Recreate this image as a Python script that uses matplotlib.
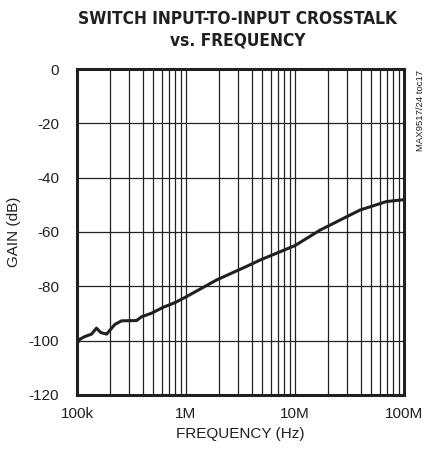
import matplotlib
matplotlib.use('Agg')
import matplotlib.pyplot as plt
import numpy as np

# crosstalk curve (frequency in Hz, gain in dB)
freq_hz = [100.6e3, 106e3, 118e3, 136e3, 151e3, 165e3, 187e3, 201e3, 223e3, 257e3,
           352e3, 392e3, 483e3, 620e3, 793e3, 1.01e6, 1.9e6, 3.86e6, 4.8e6, 10e6,
           17e6, 39.6e6, 69e6, 95e6, 100e6]
gain_db = [-101.0, -99.5, -98.5, -97.6, -95.4, -97.0, -97.6, -96.1, -94.0, -92.7,
           -92.6, -91.2, -89.9, -87.7, -86.0, -83.8, -77.7, -72.1, -70.3, -65.0,
           -59.3, -51.9, -48.8, -48.2, -48.1]

x_ticks = [1e5, 1e6, 1e7, 1e8]
x_ticklabels = ['100k', '1M', '10M', '100M']
y_ticks = [0, -20, -40, -60, -80, -100, -120]

plt.rcParams['font.family'] = ['Liberation Sans', 'DejaVu Sans']

fig = plt.figure(figsize=(4.3, 4.54), dpi=100)
ax = fig.add_axes([0.179, 0.130, 0.7605, 0.718])

ax.set_xscale('log')
ax.set_xlim(1e5, 1e8)
ax.set_ylim(-120, 0)

# grid: every 1..9 per decade, every 20 dB
for dec in [1e5, 1e6, 1e7]:
    for m in range(2, 10):
        ax.axvline(dec * m, color='#222222', lw=0.9, zorder=1)
for dec in [1e6, 1e7]:
    ax.axvline(dec, color='#222222', lw=0.9, zorder=1)
for y in y_ticks[1:-1]:
    ax.axhline(y, color='#222222', lw=0.9, zorder=1)

ax.plot(freq_hz, gain_db, color='#231f20', lw=2.2, zorder=3)

ax.set_xticks(x_ticks)
ax.set_xticklabels(x_ticklabels)
ax.set_xticks([], minor=True)
ax.set_yticks(y_ticks)
ax.set_yticklabels([str(v) for v in y_ticks])
ax.tick_params(axis='both', length=0, labelsize=11, colors='#231f20')
ax.tick_params(axis='x', pad=9)
ax.tick_params(axis='y', pad=13)

for s in ax.spines.values():
    s.set_linewidth(2.2)
    s.set_color('#231f20')

ax.set_xlabel('FREQUENCY (Hz)', fontsize=11, color='#231f20', labelpad=4)
ax.set_ylabel('GAIN (dB)', fontsize=11, color='#231f20', labelpad=5)

fig.text(0.552, 0.978, 'SWITCH INPUT-TO-INPUT CROSSTALK\nvs. FREQUENCY',
         ha='center', va='top', fontsize=12.4, fontweight='bold', color='#231f20',
         linespacing=1.25, family=['DejaVu Sans'], fontstretch='condensed')
fig.text(0.978, 0.845, 'MAX9517/24 toc17', rotation=90, ha='center', va='top',
         fontsize=6.8, color='#231f20')

fig.savefig('out.png', dpi=100)
